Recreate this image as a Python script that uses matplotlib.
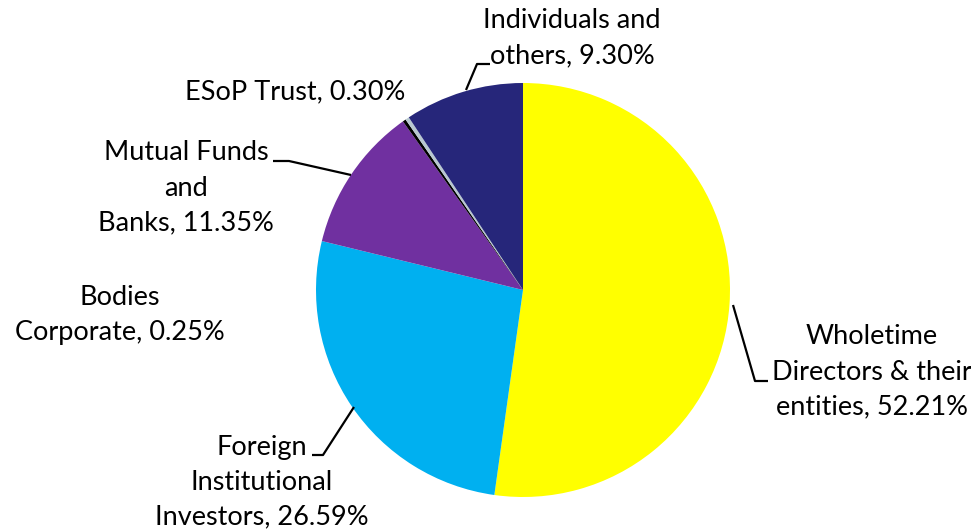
import matplotlib
matplotlib.use("Agg")
import matplotlib.pyplot as plt

# Shareholding pattern
categories = [
    "Wholetime\nDirectors & their\nentities",
    "Foreign\nInstitutional\nInvestors",
    "Mutual Funds\nand\nBanks",
    "Bodies\nCorporate",
    "ESoP Trust",
    "Individuals and\nothers",
]
shares = [52.21, 26.59, 11.35, 0.25, 0.30, 9.30]
colors = ["#FFFF00", "#00B0F0", "#7030A0", "#000000", "#B8C8D0", "#26267A"]

W, H = 971, 532
CX, CY, R = 523, 290, 207  # pie centre and radius in pixels

fig = plt.figure(figsize=(W / 100, H / 100), dpi=100)
ax = fig.add_axes([(CX - R) / W, (H - CY - R) / H, 2 * R / W, 2 * R / H])

ax.pie(shares, colors=colors, startangle=90, counterclock=False, radius=1,
       wedgeprops=dict(linewidth=0))
ax.set_xlim(-1, 1)
ax.set_ylim(-1, 1)
ax.set_aspect("equal")
ax.axis("off")


def px(x, y):
    """Pixel position -> data coordinates of the pie axes."""
    return (x - CX) / R, (CY - y) / R


FONT = dict(family="Lato", fontsize=19.5, ha="center", va="center",
            linespacing=1.5, color="black")

# label text, centre (pixels), leader line (pixels)
label_layout = [
    ((872, 372), [(733, 305), (755, 381), (768, 381)]),
    ((262, 482), [(354, 407), (323, 455), (312, 455)]),
    ((186, 188), [(351, 175), (289, 161), (273, 161)]),
    ((120, 315), None),
    ((295, 92), None),
    ((572, 38), [(466, 90), (477, 64), (490, 64)]),
]

for cat, val, (pos, line) in zip(categories, shares, label_layout):
    text = f"{cat}, {val:.2f}%"
    ax.text(*px(*pos), text, clip_on=False, **FONT)
    if line:
        xs, ys = zip(*[px(*p) for p in line])
        ax.plot(xs, ys, color="black", lw=1.6, solid_capstyle="butt",
                clip_on=False)

fig.savefig("out.png", dpi=100, facecolor="white")
